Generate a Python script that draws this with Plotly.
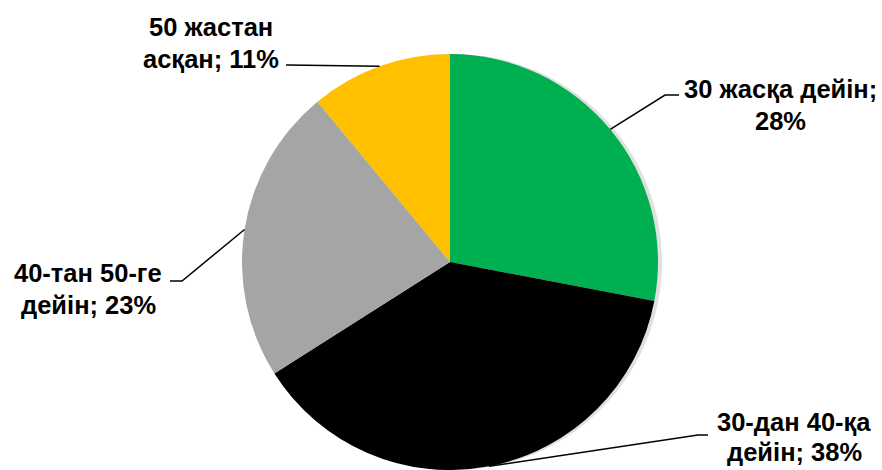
import math
import plotly.graph_objects as go

# ---- data ----
categories = ["30 жасқа дейін", "30-дан 40-қа дейін", "40-тан 50-ге дейін", "50 жастан асқан"]
values = [28, 38, 23, 11]
label_lines = [["30 жасқа дейін;", "28%"], ["30-дан 40-қа", "дейін; 38%"],
               ["40-тан 50-ге", "дейін; 23%"], ["50 жастан", "асқан; 11%"]]

# ---- style ----
colors = ["#00B050", "#000000", "#A5A5A5", "#FFC000"]
W, H = 882, 470
CX, CY, R = 450, 262, 208  # pie centre / radius in pixels
# elbow point, end of horizontal leg, label anchor (pixels), line spacing
label_layout = [
    dict(elbow=(665, 95), end=(679, 95), pos=(780, 105), lh=32),
    dict(elbow=(698, 435), end=(708, 435), pos=(794, 437), lh=30),
    dict(elbow=(182, 281), end=(170, 281), pos=(88, 289), lh=32),
    dict(elbow=(288, 65), end=(286, 65), pos=(211, 43), lh=32),
]
FONT = dict(family="Liberation Sans, Arial, sans-serif", size=25.5, color="#000000", weight="bold")


def px(x):
    return x / W


def py(y):
    return min(1.0, max(0.0, 1 - y / H))


dom_x = [px(CX - R), px(CX + R)]
dom_y = [py(CY + R), py(CY - R)]
sh = 4
dom_xs = [px(CX - R + sh), px(CX + R + sh)]
dom_ys = dom_y

fig = go.Figure()
# soft shadow
fig.add_trace(go.Pie(
    values=[1], labels=["shadow"], sort=False, textinfo="none", hoverinfo="skip",
    marker=dict(colors=["rgba(0,0,0,0.12)"], line=dict(width=0)),
    domain=dict(x=dom_xs, y=dom_ys), showlegend=False,
))
fig.add_trace(go.Pie(
    labels=categories, values=values, sort=False, direction="clockwise", rotation=0,
    marker=dict(colors=colors, line=dict(width=0)),
    textinfo="none", domain=dict(x=dom_x, y=dom_y), showlegend=False,
))

total = sum(values)
cum = 0
shapes, annotations = [], []
for i, v in enumerate(values):
    mid = (cum + v / 2) / total * 2 * math.pi
    cum += v
    ex = CX + R * math.sin(mid)
    ey = CY - R * math.cos(mid)
    L = label_layout[i]
    pts = [(ex, ey), L["elbow"], L["end"]]
    path = "M " + " L ".join(f"{x / W},{1 - y / H}" for x, y in pts)
    shapes.append(dict(type="path", path=path, xref="paper", yref="paper",
                       line=dict(color="#000000", width=1.5)))
    lines = label_lines[i]
    n = len(lines)
    for k, t in enumerate(lines):
        yk = L["pos"][1] + (k - (n - 1) / 2) * L["lh"]
        annotations.append(dict(text=t, x=px(L["pos"][0]), y=py(yk),
                                xref="paper", yref="paper", xanchor="center", yanchor="middle",
                                showarrow=False, font=FONT, align="center"))

fig.update_layout(
    width=W, height=H, margin=dict(l=0, r=0, t=0, b=0),
    paper_bgcolor="#FFFFFF", plot_bgcolor="#FFFFFF",
    shapes=shapes, annotations=annotations, showlegend=False,
)
fig.write_html("out.html", config={"displayModeBar": False},
               post_script="document.body.style.margin='0';")
